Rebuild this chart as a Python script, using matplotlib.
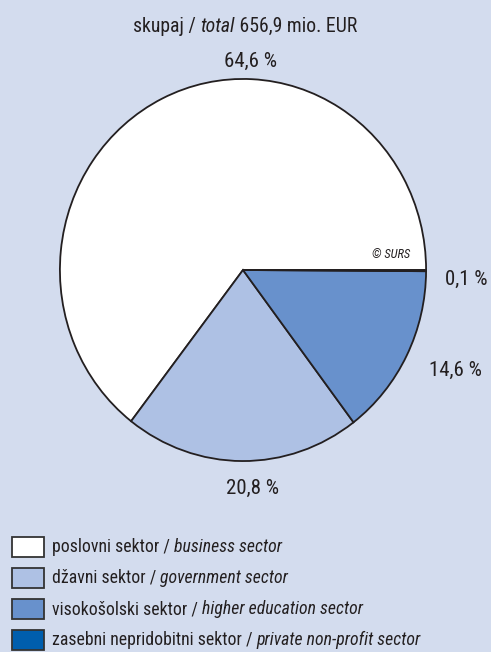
import matplotlib
matplotlib.use('Agg')
import matplotlib.pyplot as plt
from matplotlib.patches import Rectangle

# --- data ---
sectors_si = ['poslovni sektor', 'džavni sektor', 'visokošolski sektor', 'zasebni nepridobitni sektor']
sectors_en = ['business sector', 'government sector', 'higher education sector', 'private non-profit sector']
shares = [64.6, 20.8, 14.6, 0.1]
share_labels = ['64,6 %', '20,8 %', '14,6 %', '0,1 %']
total_label = ('skupaj / ', 'total', ' 656,9 mio. EUR')

colors = ['#ffffff', '#aec1e4', '#6891cc', '#005ead']
bg = '#d3dcee'
ink = '#231f20'

plt.rcParams['font.family'] = ['Roboto Condensed', 'DejaVu Sans']

W, H = 491, 652
fig = plt.figure(figsize=(W / 100, H / 100), dpi=100, facecolor=bg)

# pie, centre (243, 270) px from top, radii 184 x 192
cx, cy, rx, ry = 243, 270, 184, 192
ax = fig.add_axes([(cx - rx) / W, (H - cy - ry) / H, 2 * rx / W, 2 * ry / H])
wedges, _ = ax.pie(shares, colors=colors, startangle=0, counterclock=True, radius=1,
                   wedgeprops=dict(edgecolor=ink, linewidth=1.3))
ax.set_aspect('auto')
ax.set_xlim(-1.005, 1.005)
ax.set_ylim(-1.005, 1.005)
ax.axis('off')

renderer = fig.canvas.get_renderer()


def px(x, y):
    return x / W, 1 - y / H


def mixed(x, y, parts, size, ha='center'):
    # parts: (text, italic); x, y in px from top-left
    widths = []
    for s, it in parts:
        t = fig.text(0, 0, s, fontsize=size, style='italic' if it else 'normal')
        widths.append(t.get_window_extent(renderer).width)
        t.remove()
    x0 = x - sum(widths) / 2 if ha == 'center' else x
    for (s, it), w in zip(parts, widths):
        fig.text(*px(x0, y), s, fontsize=size, style='italic' if it else 'normal',
                 color=ink, ha='left', va='baseline')
        x0 += w


# baselines
mixed(245, 32, [(total_label[0], False), (total_label[1], True), (total_label[2], False)], 14.2)

label_pos = [(251, 67), (252, 494), (455, 376), (466, 285)]
for lab, (x, y) in zip(share_labels, label_pos):
    fig.text(*px(x, y), lab, fontsize=15, color=ink, ha='center', va='baseline')

fig.text(*px(391, 258), '© SURS', fontsize=9, style='italic', color=ink, ha='center', va='baseline')

# legend
for i, (si, en, c) in enumerate(zip(sectors_si, sectors_en, colors)):
    yc = 547 + i * 31
    fig.patches.append(Rectangle(px(12, yc + 10), 32 / W, 20 / H, transform=fig.transFigure,
                                 facecolor=c, edgecolor='#333333', linewidth=1.3))
    mixed(52, yc + 5, [(si + ' / ', False), (en, True)], 12.8, ha='left')

fig.savefig('out.png', dpi=100, facecolor=bg)
